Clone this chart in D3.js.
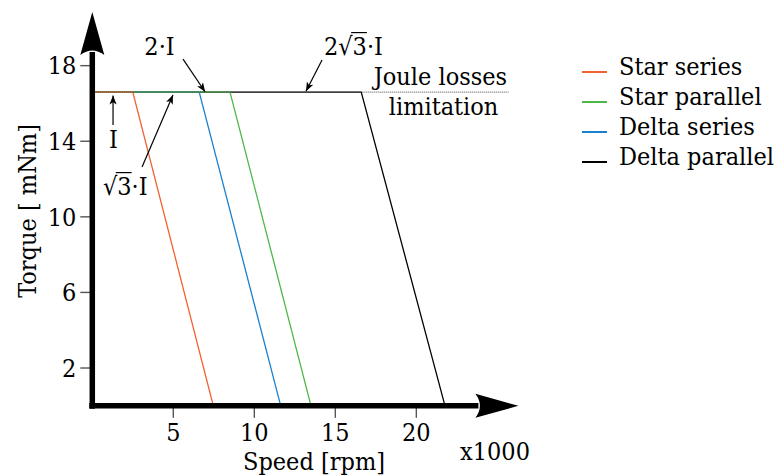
<!DOCTYPE html>
<html><head><meta charset="utf-8">
<script src="https://cdn.jsdelivr.net/npm/d3@7"></script>
<style>
html,body{margin:0;padding:0;background:#fff;}
text{font-family:"DejaVu Serif Condensed","DejaVu Serif",serif;font-stretch:condensed;fill:#000;}
</style></head>
<body><svg id="c" width="782" height="475"></svg>
<script>
// ---- data ----
const seriesNames = ["Star series","Star parallel","Delta series","Delta parallel"];
const seriesColors = ["#f26130","#4cb848","#1a80d0","#000000"];
const ratedTorque = [16.6,16.6,16.6,16.6];          // mNm
const cornerSpeed = [2.5, 8.5, 6.6, 16.6];           // x1000 rpm
const noLoadSpeed = [7.47, 13.5, 11.63, 21.77];      // x1000 rpm
const yTicks = [2,6,10,14,18];
const xTicks = [5,10,15,20];
const jouleLimitEnd = 25.7;
// annotations: [label, textX, textY, anchor, tailX, tailY, tipX, tipY]
const annotations = [
  ["I",      1.31, 13.64, "middle", 1.28, 14.86, 1.28, 16.42],
  ["√3·I",   0.66, 11.15, "start",  3.07, 12.64, 4.98, 16.45],
  ["2·I",    4.15, 18.56, "middle", 5.60, 18.35, 6.96, 16.62],
  ["2√3·I", 14.30, 18.56, "start", 14.18, 18.30, 13.19, 16.65]
];

const svg = d3.select("#c");
const x = d3.scaleLinear().domain([0, 26.3]).range([92.3, 518.4]);
const y = d3.scaleLinear().domain([0, 20.84]).range([405.8, 12]);

const defs = svg.append("defs");
defs.append("marker").attr("id","ah").attr("viewBox","0 0 10 8")
  .attr("refX",10).attr("refY",4).attr("markerWidth",9).attr("markerHeight",7.2)
  .attr("markerUnits","userSpaceOnUse").attr("orient","auto")
  .append("path").attr("d","M0,0 L10,4 L0,8 L2.5,4 Z").attr("fill","#000");

// series lines (drawn last legend entry first)
const line = d3.line().x(d=>x(d[0])).y(d=>y(d[1]));
d3.range(seriesNames.length).reverse().forEach(i=>{
  svg.append("path")
    .attr("d", line([[0,ratedTorque[i]],[cornerSpeed[i],ratedTorque[i]],[noLoadSpeed[i],0]]))
    .attr("fill","none").attr("stroke",seriesColors[i]).attr("stroke-width",1.3);
});
// Joule losses limit dotted
svg.append("path").attr("d", line([[0,16.6],[jouleLimitEnd,16.6]]))
  .attr("stroke","#444").attr("stroke-width",1).attr("stroke-dasharray","1,1").attr("fill","none");

// ticks
const tickG = svg.append("g");
yTicks.forEach(t=>{
  tickG.append("line").attr("x1",x(0)-12).attr("x2",x(0)).attr("y1",y(t)).attr("y2",y(t))
    .attr("stroke","#555").attr("stroke-width",1.4);
  tickG.append("text").attr("x",x(0)-16).attr("y",y(t)).attr("dy","0.35em")
    .attr("text-anchor","end").attr("font-size",25).text(t);
});
xTicks.forEach(t=>{
  tickG.append("line").attr("x1",x(t)).attr("x2",x(t)).attr("y1",y(0)).attr("y2",y(0)+12)
    .attr("stroke","#555").attr("stroke-width",1.4);
  tickG.append("text").attr("x",x(t)).attr("y",y(0)+35)
    .attr("text-anchor","middle").attr("font-size",25).text(t);
});

// thick axes with stealth arrowheads
const x0 = x(0), y0 = y(0);
const yTop = y(y.domain()[1]), xEnd = x(x.domain()[1]);
svg.append("line").attr("x1",x0).attr("x2",x0).attr("y1",y0+3).attr("y2",yTop+40)
  .attr("stroke","#000").attr("stroke-width",5.5);
svg.append("line").attr("x1",x0-3).attr("x2",xEnd-40).attr("y1",y0).attr("y2",y0)
  .attr("stroke","#000").attr("stroke-width",5.5);
svg.append("path").attr("d",`M${x0},${yTop} L${x0+12},${yTop+43} Q${x0},${yTop+34} ${x0-12},${yTop+43} Z`).attr("fill","#000");
svg.append("path").attr("d",`M${xEnd},${y0} L${xEnd-43},${y0-12} Q${xEnd-34},${y0} ${xEnd-43},${y0+12} Z`).attr("fill","#000");

// axis labels
svg.append("text").attr("transform",`translate(36,${(y(0)+y(20.84))/2+2}) rotate(-90)`)
  .attr("text-anchor","middle").attr("font-size",25).text("Torque [ mNm]");
svg.append("text").attr("x",314).attr("y",470).attr("text-anchor","middle").attr("font-size",25).text("Speed [rpm]");
svg.append("text").attr("x",495).attr("y",460).attr("text-anchor","middle").attr("font-size",25).text("x1000");

// annotations
annotations.forEach(a=>{
  svg.append("line").attr("x1",x(a[4])).attr("y1",y(a[5])).attr("x2",x(a[6])).attr("y2",y(a[7]))
    .attr("stroke","#000").attr("stroke-width",1.2).attr("marker-end","url(#ah)");
  const t = svg.append("text").attr("x",x(a[1])).attr("y",y(a[2])).attr("text-anchor",a[3])
    .attr("font-size",25).text(a[0]);
  const idx = a[0].indexOf("√");
  if (idx>=0){
    const e = t.node().getExtentOfChar(idx+1);
    const eR = t.node().getExtentOfChar(idx);
    svg.append("line").attr("x1",eR.x+eR.width-1.5).attr("x2",e.x+e.width)
      .attr("y1",y(a[2])-22.5).attr("y2",y(a[2])-22.5).attr("stroke","#000").attr("stroke-width",1.2);
  }
});
svg.append("text").attr("x",x(21.49)).attr("y",y(16.97)).attr("text-anchor","middle").attr("font-size",25).text("Joule losses");
svg.append("text").attr("x",x(21.68)).attr("y",y(15.39)).attr("text-anchor","middle").attr("font-size",25).text("limitation");

// legend
const lg = svg.append("g").attr("transform","translate(582,72)");
seriesNames.forEach((n,i)=>{
  lg.append("line").attr("x1",0).attr("x2",25).attr("y1",i*30).attr("y2",i*30)
    .attr("stroke",seriesColors[i]).attr("stroke-width",2);
  lg.append("text").attr("x",37).attr("y",i*30+3).attr("font-size",25).text(n);
});
</script></body></html>
